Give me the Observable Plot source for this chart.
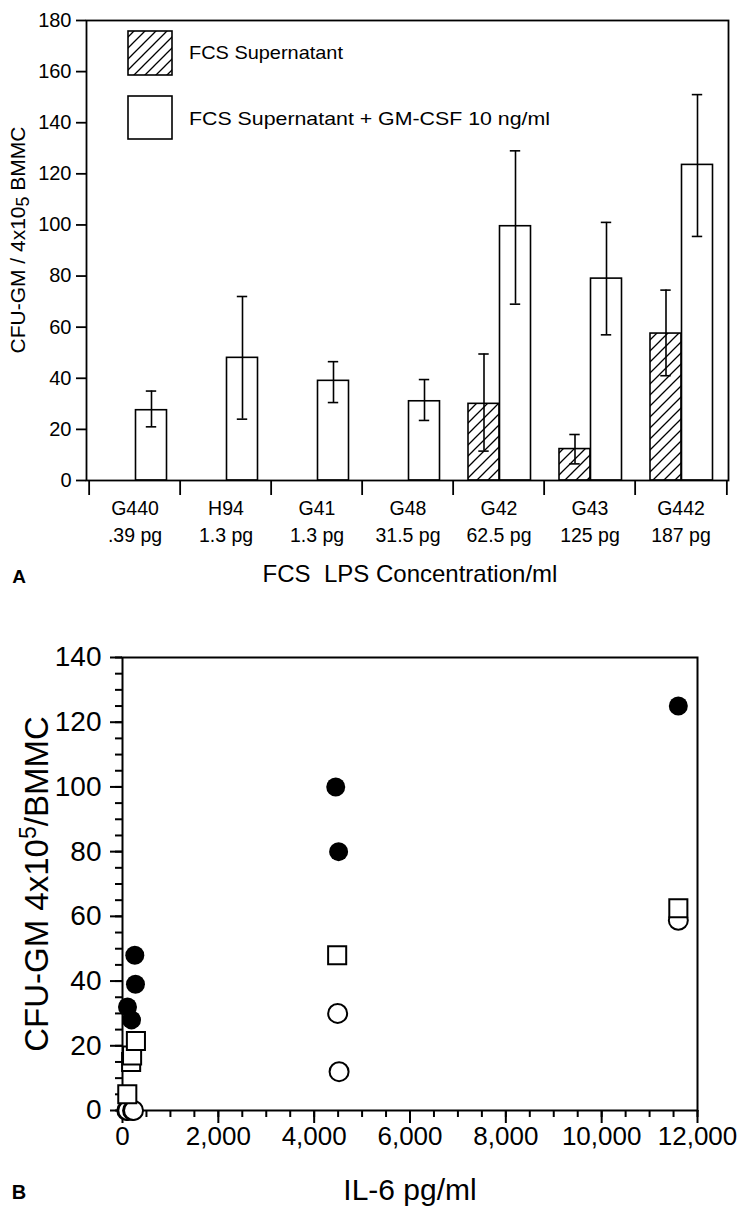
<!DOCTYPE html>
<html><head><meta charset="utf-8">
<script src="https://cdn.jsdelivr.net/npm/d3@7"></script>
<script src="https://cdn.jsdelivr.net/npm/@observablehq/plot@0.6"></script>
<style>
html,body{margin:0;padding:0;background:#fff;}
#wrap{position:relative;width:741px;height:1213px;overflow:hidden;font-family:"Liberation Sans",Arial,Helvetica,sans-serif;color:#000;background:#fff;}
.abs{position:absolute;left:0;}
.lbl{position:absolute;white-space:pre;line-height:1;}
.rot{transform:translate(-50%,-50%) rotate(-90deg);}
.ctr{transform:translate(-50%,-50%);}
</style></head><body>
<div id="wrap">
<svg width="0" height="0" style="position:absolute"><defs>
<pattern id="hatch" patternUnits="userSpaceOnUse" width="11" height="11">
<path d="M-2,2 l4,-4 M0,11 l11,-11 M9,13 l4,-4" stroke="#000" stroke-width="1.3" fill="none"/>
</pattern></defs></svg>
<div id="top" class="abs" style="top:0"></div>
<div id="bottom" class="abs" style="top:600px"></div>
<svg class="abs" style="top:0" width="741" height="150">
<rect x="128" y="31" width="44" height="44" fill="url(#hatch)" stroke="#000" stroke-width="1.6"/>
<rect x="128" y="96" width="44" height="43" fill="#fff" stroke="#000" stroke-width="1.6"/>
<text x="189" y="59" font-family="Liberation Sans, Arial, sans-serif" font-size="18.5" textLength="154" lengthAdjust="spacingAndGlyphs">FCS Supernatant</text>
<text x="189" y="125" font-family="Liberation Sans, Arial, sans-serif" font-size="18.5" textLength="361" lengthAdjust="spacingAndGlyphs">FCS Supernatant + GM-CSF 10 ng/ml</text>
</svg>
<div class="lbl rot" style="left:18px;top:240px;font-size:21px">CFU-GM / 4x10<span style="font-size:0.85em;position:relative;top:0.2em">5</span> BMMC</div>
<div class="lbl ctr" style="left:410px;top:574px;font-size:24px">FCS  LPS Concentration/ml</div>
<div class="lbl ctr" style="left:19px;top:576px;font-size:19px;font-weight:bold">A</div>
<div class="lbl rot" style="left:36px;top:884px;font-size:33px">CFU-GM 4x10<span style="font-size:0.7em;position:relative;top:-0.5em">5</span>/BMMC</div>
<div class="lbl ctr" style="left:410px;top:1190px;font-size:30px">IL-6 pg/ml</div>
<div class="lbl ctr" style="left:19px;top:1192px;font-size:20px;font-weight:bold">B</div>
</div>
<script>
// ---- Panel A data ----
const categories = ["G440", "H94", "G41", "G48", "G42", "G43", "G442"];
const concentrations = [".39 pg", "1.3 pg", "1.3 pg", "31.5 pg", "62.5 pg", "125 pg", "187 pg"];
const supernatant = [0, 0, 0, 0, 30, 12.3, 57.5];
const supernatantLow = [null, null, null, null, 11.5, 6.5, 41];
const supernatantHigh = [null, null, null, null, 49.5, 18, 74.5];
const gmcsf = [27.5, 48, 39, 31, 99.5, 79, 123.5];
const gmcsfLow = [21, 24, 30.5, 23.5, 69, 57, 95.5];
const gmcsfHigh = [35, 72, 46.5, 39.5, 129, 101, 151];
const yTicksA = [0, 20, 40, 60, 80, 100, 120, 140, 160, 180];

// ---- Panel B data ----
const il6Filled = [104, 188, 257, 271, 4450, 4510, 11600];
const cfuFilled = [32, 28, 48, 39, 100, 80, 125];
const il6Square = [100, 180, 200, 280, 4480, 11600];
const cfuSquare = [5, 15, 17, 21.5, 48, 62.5];
const il6Open = [90, 110, 210, 230, 4490, 4520, 11600];
const cfuOpen = [0, 0, 0, 0, 30, 12, 58.8];
const yMajorB = [0, 20, 40, 60, 80, 100, 120, 140];
const yMinorB = d3.range(0, 141, 5);
const xMajorB = [0, 2000, 4000, 6000, 8000, 10000, 12000];
const xMinorB = d3.range(0, 12001, 500);

const concOf = new Map(categories.map((c, i) => [c, concentrations[i]]));
const rowsA = categories.map((c, i) => ({
  cat: c, s: supernatant[i], sLo: supernatantLow[i], sHi: supernatantHigh[i],
  g: gmcsf[i], gLo: gmcsfLow[i], gHi: gmcsfHigh[i]
}));
const rowsS = rowsA.filter(d => d.s > 0);

const font = "Liberation Sans, Arial, Helvetica, sans-serif";
const lw = 1.6;
const capInset = 40.3;

function setFont(svg, label, size) {
  svg.querySelectorAll(`g[aria-label="${label}"]`).forEach(g => {
    g.setAttribute("font-size", size);
    g.style.fontSize = size + "px";
    g.querySelectorAll("text").forEach(t => t.style.fontSize = size + "px");
  });
}

const topPlot = Plot.plot({
  width: 741, height: 600,
  marginTop: 20, marginBottom: 120, marginLeft: 86, marginRight: 13,
  style: {fontFamily: font, fontSize: "20px", background: "transparent", color: "#000", overflow: "visible"},
  x: {type: "band", domain: categories, padding: 0, axis: null},
  y: {domain: [0, 180], axis: null},
  marks: [
    Plot.barY(rowsS, {x: "cat", y: "s", fill: "url(#hatch)", stroke: "#000", strokeWidth: lw, insetLeft: 15, insetRight: 45}),
    Plot.barY(rowsA, {x: "cat", y: "g", fill: "white", stroke: "#000", strokeWidth: lw, insetLeft: 46.5, insetRight: 13.5}),
    Plot.ruleX(rowsS, {x: "cat", y1: "sLo", y2: "sHi", dx: -15, strokeWidth: lw}),
    Plot.tickY(rowsS, {x: "cat", y: "sHi", dx: -15, insetLeft: capInset, insetRight: capInset, strokeWidth: lw}),
    Plot.tickY(rowsS, {x: "cat", y: "sLo", dx: -15, insetLeft: capInset, insetRight: capInset, strokeWidth: lw}),
    Plot.ruleX(rowsA, {x: "cat", y1: "gLo", y2: "gHi", dx: 16.5, strokeWidth: lw}),
    Plot.tickY(rowsA, {x: "cat", y: "gHi", dx: 16.5, insetLeft: capInset, insetRight: capInset, strokeWidth: lw}),
    Plot.tickY(rowsA, {x: "cat", y: "gLo", dx: 16.5, insetLeft: capInset, insetRight: capInset, strokeWidth: lw}),
    Plot.frame({stroke: "#000", strokeWidth: 1.8}),
    Plot.axisY({ticks: yTicksA, tickSize: 10, tickPadding: 5, strokeWidth: 1.8, label: null}),
    Plot.axisX({tickSize: 15, dx: -45.86, tickFormat: () => "", label: null, strokeWidth: 1.8}),
    Plot.axisX({ticks: [categories[categories.length - 1]], tickSize: 15, dx: 45.86, tickFormat: () => "", label: null, strokeWidth: 1.8}),
    Plot.axisX({tickSize: 0, tickPadding: 16, tickFormat: d => d + "\n" + concOf.get(d), label: null, lineHeight: 1.35})
  ]
});
setFont(topPlot, "y-axis tick label", 20);
setFont(topPlot, "x-axis tick label", 19.5);
document.getElementById("top").appendChild(topPlot);

const filledRows = il6Filled.map((x, i) => ({x, y: cfuFilled[i]}));
const squareRows = il6Square.map((x, i) => ({x, y: cfuSquare[i]}));
const openRows = il6Open.map((x, i) => ({x, y: cfuOpen[i]}));

const botPlot = Plot.plot({
  width: 741, height: 613,
  marginTop: 57, marginBottom: 103, marginLeft: 122, marginRight: 44,
  style: {fontFamily: font, fontSize: "28px", background: "transparent", color: "#000", overflow: "visible"},
  x: {domain: [0, 12000], axis: null},
  y: {domain: [0, 140], axis: null},
  marks: [
    Plot.frame({stroke: "#000", strokeWidth: 2}),
    Plot.axisY({ticks: yMinorB, tickSize: 7, tickFormat: () => "", label: null, strokeWidth: 2}),
    Plot.axisY({ticks: yMajorB, tickSize: 12, tickPadding: 9, label: null, strokeWidth: 2}),
    Plot.axisX({ticks: xMinorB, tickSize: 7, tickFormat: () => "", label: null, strokeWidth: 2}),
    Plot.axisX({ticks: xMajorB, tickSize: 13, tickPadding: 3, tickFormat: d3.format(","), label: null, strokeWidth: 2}),
    Plot.dot(openRows, {x: "x", y: "y", r: 9.5, fill: "white", stroke: "#000", strokeWidth: 2}),
    Plot.dot(squareRows, {x: "x", y: "y", symbol: "square", r: 10.2, fill: "white", stroke: "#000", strokeWidth: 2}),
    Plot.dot(filledRows, {x: "x", y: "y", r: 9.5, fill: "#000", stroke: "none"})
  ]
});
setFont(botPlot, "y-axis tick label", 28);
setFont(botPlot, "x-axis tick label", 26);
document.getElementById("bottom").appendChild(botPlot);
</script>
</body></html>
